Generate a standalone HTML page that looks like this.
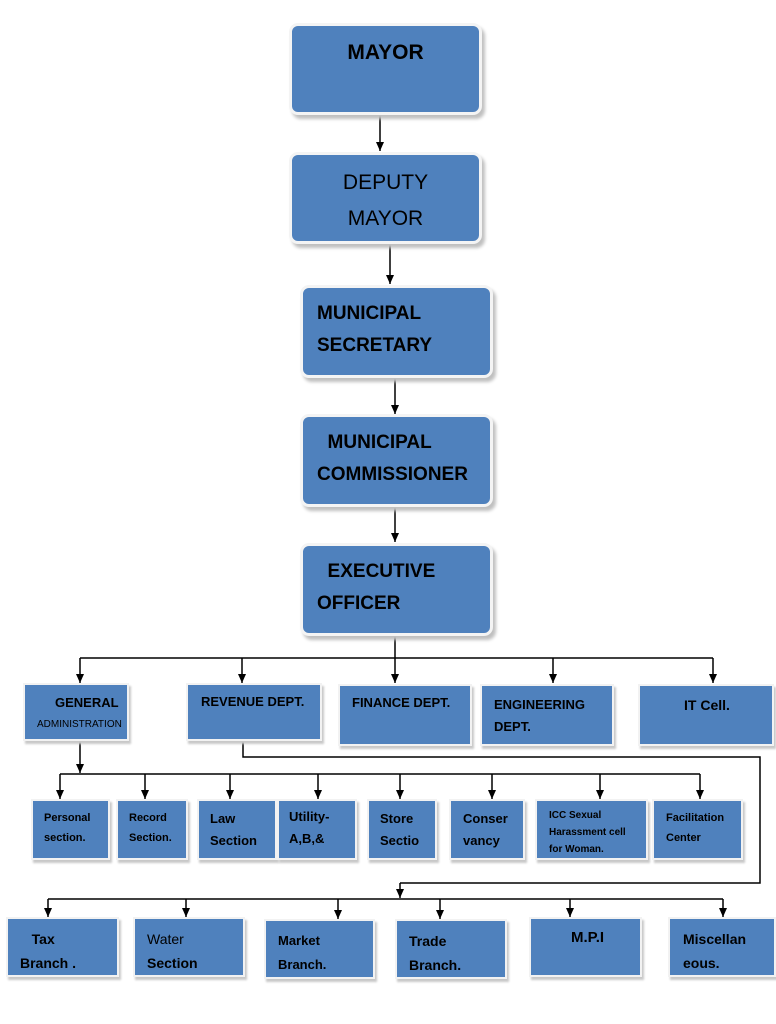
<!DOCTYPE html>
<html><head><meta charset="utf-8"><style>
body{margin:0;width:776px;height:1024px;background:#fff;position:relative;overflow:hidden;font-family:"Liberation Sans",Arial,sans-serif}
.b{position:absolute;background:#4f81bd;border:2px solid #f2f2f2;box-shadow:2px 3px 2px #c8c8c8;box-sizing:border-box;color:#000;font-weight:bold;line-height:1.4}
.r{border-radius:9px;border:3px solid #f4f4f4;box-shadow:3px 4px 3px #c0c0c0}
svg{position:absolute;left:0;top:0}
</style></head><body>
<svg width="776" height="1024">
<defs><marker id="a" markerWidth="10" markerHeight="10" refX="9" refY="4" orient="auto" markerUnits="userSpaceOnUse"><path d="M0,0 L9,4 L0,8 z" fill="#000"/></marker></defs>
<g stroke="#000" stroke-width="1.5" fill="none">
<line x1="380" y1="114" x2="380" y2="151" marker-end="url(#a)"/>
<line x1="390" y1="244" x2="390" y2="284" marker-end="url(#a)"/>
<line x1="395" y1="378" x2="395" y2="414" marker-end="url(#a)"/>
<line x1="395" y1="507" x2="395" y2="542" marker-end="url(#a)"/>
<line x1="395" y1="636" x2="395" y2="683" marker-end="url(#a)"/>
<line x1="80" y1="658" x2="713" y2="658"/>
<line x1="80" y1="658" x2="80" y2="683" marker-end="url(#a)"/>
<line x1="242" y1="658" x2="242" y2="683" marker-end="url(#a)"/>
<line x1="553" y1="658" x2="553" y2="683" marker-end="url(#a)"/>
<line x1="713" y1="658" x2="713" y2="683" marker-end="url(#a)"/>
<polyline points="243,741 243,757 760,757 760,883 400,883"/>
<line x1="400" y1="883" x2="400" y2="898" marker-end="url(#a)"/>
<line x1="80" y1="741" x2="80" y2="773" marker-end="url(#a)"/>
<line x1="60" y1="774" x2="700" y2="774"/>
<line x1="60" y1="774" x2="60" y2="799" marker-end="url(#a)"/>
<line x1="145" y1="774" x2="145" y2="799" marker-end="url(#a)"/>
<line x1="230" y1="774" x2="230" y2="799" marker-end="url(#a)"/>
<line x1="318" y1="774" x2="318" y2="799" marker-end="url(#a)"/>
<line x1="400" y1="774" x2="400" y2="799" marker-end="url(#a)"/>
<line x1="492" y1="774" x2="492" y2="799" marker-end="url(#a)"/>
<line x1="600" y1="774" x2="600" y2="799" marker-end="url(#a)"/>
<line x1="700" y1="774" x2="700" y2="799" marker-end="url(#a)"/>
<line x1="48" y1="899" x2="723" y2="899"/>
<line x1="48" y1="899" x2="48" y2="917" marker-end="url(#a)"/>
<line x1="186" y1="899" x2="186" y2="917" marker-end="url(#a)"/>
<line x1="338" y1="899" x2="338" y2="919" marker-end="url(#a)"/>
<line x1="440" y1="899" x2="440" y2="919" marker-end="url(#a)"/>
<line x1="570" y1="899" x2="570" y2="917" marker-end="url(#a)"/>
<line x1="723" y1="899" x2="723" y2="917" marker-end="url(#a)"/>
</g></svg>

<div class="b r" style="left:289px;top:23px;width:193px;height:92px;font-size:21px;text-align:center;padding-top:12px">MAYOR</div>
<div class="b r" style="left:289px;top:152px;width:193px;height:92px;font-size:21px;font-weight:normal;text-align:center;padding-top:10px;line-height:36px">DEPUTY<br>MAYOR</div>
<div class="b r" style="left:300px;top:285px;width:193px;height:93px;font-size:19px;padding:10px 0 0 14px;line-height:32px">MUNICIPAL<br>SECRETARY</div>
<div class="b r" style="left:300px;top:414px;width:193px;height:93px;font-size:19px;padding:10px 0 0 14px;line-height:32px">&nbsp;&nbsp;MUNICIPAL<br>COMMISSIONER</div>
<div class="b r" style="left:300px;top:543px;width:193px;height:93px;font-size:19px;padding:10px 0 0 14px;line-height:32px">&nbsp;&nbsp;EXECUTIVE<br>OFFICER</div>

<div class="b" style="left:23px;top:683px;width:106px;height:58px;font-size:13px;padding:8px 0 0 30px;line-height:20px">GENERAL<br><span style="font-weight:normal;font-size:10px;margin-left:-18px">ADMINISTRATION</span></div>
<div class="b" style="left:186px;top:683px;width:136px;height:58px;font-size:13px;padding:8px 0 0 13px">REVENUE DEPT.</div>
<div class="b" style="left:338px;top:684px;width:134px;height:62px;font-size:13px;padding:8px 0 0 12px">FINANCE DEPT.</div>
<div class="b" style="left:480px;top:684px;width:134px;height:62px;font-size:13px;padding:8px 0 0 12px;line-height:22px">ENGINEERING<br>DEPT.</div>
<div class="b" style="left:638px;top:684px;width:136px;height:62px;font-size:14px;padding:10px 0 0 44px">IT Cell.</div>

<div class="b" style="left:31px;top:799px;width:79px;height:61px;font-size:11px;padding:7px 0 0 11px;line-height:20px">Personal<br>section.</div>
<div class="b" style="left:116px;top:799px;width:72px;height:61px;font-size:11px;padding:7px 0 0 11px;line-height:20px">Record<br>Section.</div>
<div class="b" style="left:197px;top:799px;width:80px;height:61px;font-size:13px;padding:7px 0 0 11px;line-height:22px">Law<br>Section</div>
<div class="b" style="left:277px;top:799px;width:80px;height:61px;font-size:13px;padding:5px 0 0 10px;line-height:22px">Utility-<br>A,B,&amp;</div>
<div class="b" style="left:367px;top:799px;width:70px;height:61px;font-size:13px;padding:7px 0 0 11px;line-height:22px">Store<br>Sectio</div>
<div class="b" style="left:449px;top:799px;width:76px;height:61px;font-size:13px;padding:7px 0 0 12px;line-height:22px">Conser<br>vancy</div>
<div class="b" style="left:535px;top:799px;width:113px;height:61px;font-size:10px;padding:6px 0 0 12px;line-height:17px">ICC Sexual<br>Harassment cell<br>for Woman.</div>
<div class="b" style="left:652px;top:799px;width:91px;height:61px;font-size:11px;padding:7px 0 0 12px;line-height:20px">Facilitation<br>Center</div>

<div class="b" style="left:6px;top:917px;width:113px;height:60px;font-size:14px;padding:8px 0 0 12px;line-height:24px">&nbsp;&nbsp;&nbsp;Tax<br>Branch .</div>
<div class="b" style="left:133px;top:917px;width:112px;height:60px;font-size:14px;padding:8px 0 0 12px;line-height:24px"><span style="font-weight:normal">Water</span><br>Section</div>
<div class="b" style="left:264px;top:919px;width:111px;height:60px;font-size:13px;padding:8px 0 0 12px;line-height:24px">Market<br>Branch.</div>
<div class="b" style="left:395px;top:919px;width:112px;height:60px;font-size:14px;padding:8px 0 0 12px;line-height:24px">Trade<br>Branch.</div>
<div class="b" style="left:529px;top:917px;width:113px;height:60px;font-size:15px;padding:8px 0 0 40px">M.P.I</div>
<div class="b" style="left:668px;top:917px;width:108px;height:60px;font-size:14px;padding:8px 0 0 13px;line-height:24px">Miscellan<br>eous.</div>
</body></html>
